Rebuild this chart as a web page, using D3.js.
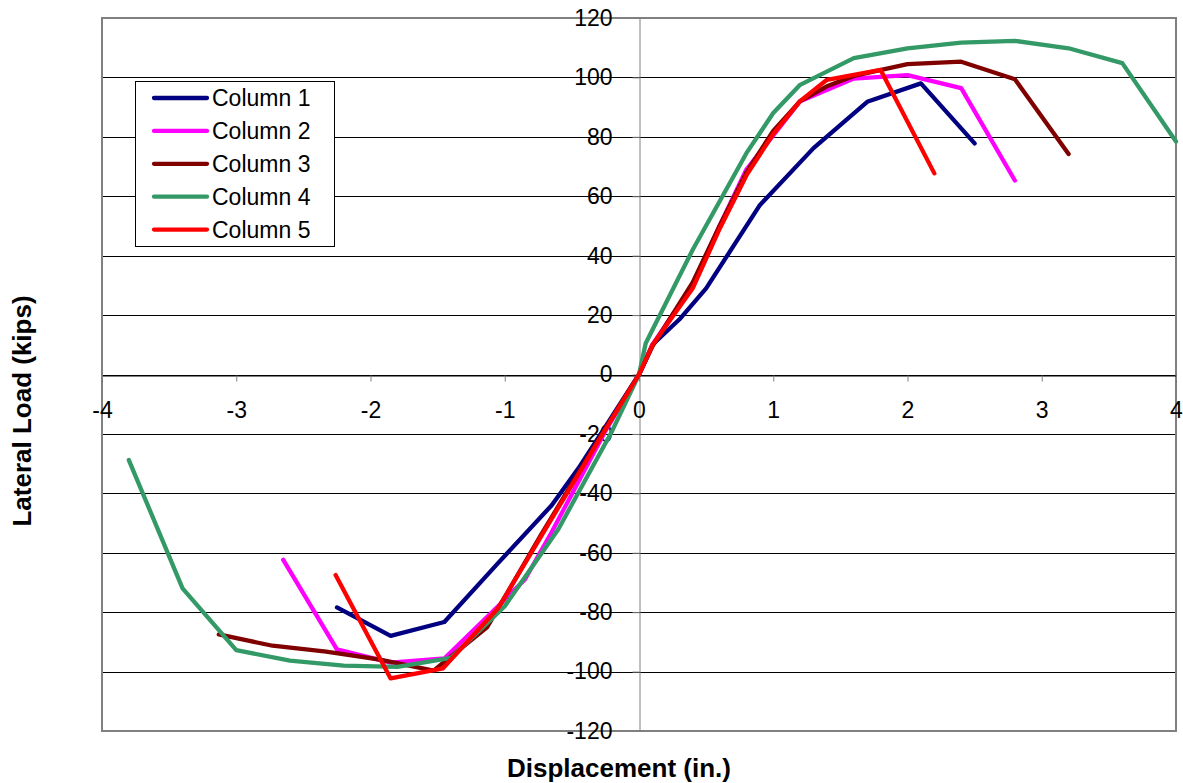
<!DOCTYPE html>
<html>
<head>
<meta charset="utf-8">
<script src="https://cdn.jsdelivr.net/npm/d3@7"></script>
<style>
  body { margin: 0; background: #fff; }
  svg { display: block; font-family: "Liberation Sans", Arial, sans-serif; }
</style>
</head>
<body>
<script>
'use strict';

// values
const seriesNames = ['Column 1', 'Column 2', 'Column 3', 'Column 4', 'Column 5'];
const seriesColors = ['#000080', '#ff00ff', '#800000', '#339966', '#ff0000'];

const col1X = [-2.25, -1.85, -1.45, -1.05, -0.65, -0.45, -0.25, 0, 0.1, 0.3, 0.5, 0.9, 1.3, 1.7, 2.1, 2.5];
const col1Y = [-78.4, -88, -83.3, -63.5, -44, -31.5, -17.6, 0, 10, 18.5, 29, 57, 76.2, 91.8, 98, 77.8];

const col2X = [-2.65, -2.25, -1.85, -1.45, -1.05, -0.85, -0.65, -0.45, -0.25, 0, 0.1, 0.4, 0.6, 0.8, 1.2, 1.6, 2.0, 2.4, 2.8];
const col2Y = [-62.4, -92.5, -97, -95.6, -78, -69, -53, -36, -19, 0, 10, 30, 50, 69, 92, 99.6, 100.8, 96.4, 65.3];

const col3X = [-3.13, -2.73, -2.33, -1.93, -1.53, -1.13, -0.73, -0.33, 0, 0.1, 0.4, 0.6, 0.8, 1.0, 1.2, 1.4, 1.6, 2.0, 2.4, 2.8, 3.2];
const col3Y = [-87.5, -91.3, -93.3, -96, -99.7, -85, -54, -24, 0, 9.5, 31, 50, 68, 82, 92, 97, 100.5, 104.5, 105.3, 99.4, 74.2];

const col4X = [-3.8, -3.4, -3.0, -2.6, -2.2, -1.8, -1.4, -1.0, -0.6, -0.2, 0, 0.05, 0.4, 0.8, 1.0, 1.2, 1.6, 2.0, 2.4, 2.8, 3.2, 3.6, 4.0];
const col4Y = [-28.8, -72, -92.8, -96.3, -98, -98.4, -95.4, -78, -52, -19, 0, 10.5, 42, 74.5, 88, 97.5, 106.5, 109.8, 111.7, 112.3, 109.8, 104.8, 78.4];

const col5X = [-2.26, -1.85, -1.46, -1.05, -0.65, -0.25, 0, 0.1, 0.4, 0.6, 0.8, 1.0, 1.2, 1.4, 1.8, 2.2];
const col5Y = [-67.5, -102.3, -98.9, -78.7, -48.5, -18.5, 0, 9.9, 29, 49, 67, 81, 92, 99.2, 102.5, 67.7];

const xTicks = [-4, -3, -2, -1, 0, 1, 2, 3, 4];
const yTicks = [-120, -100, -80, -60, -40, -20, 0, 20, 40, 60, 80, 100, 120];

const xs = [col1X, col2X, col3X, col4X, col5X];
const ys = [col1Y, col2Y, col3Y, col4Y, col5Y];

const W = 1183, H = 783;
const plot = { left: 102, top: 18, right: 1176, bottom: 731 };

const svg = d3.select('body').append('svg')
  .attr('width', W)
  .attr('height', H);

const x = d3.scaleLinear().domain([-4, 4]).range([plot.left, plot.right]);
const y = d3.scaleLinear().domain([-120, 120]).range([plot.bottom, plot.top]);

// plain hyphen for negatives, like the original
const fmt = (d) => String(d);

// horizontal gridlines
svg.append('g')
  .selectAll('line')
  .data(yTicks.filter((d) => d !== 120 && d !== -120))
  .enter().append('line')
  .attr('x1', plot.left).attr('x2', plot.right)
  .attr('y1', (d) => Math.round(y(d)) + 0.5)
  .attr('y2', (d) => Math.round(y(d)) + 0.5)
  .attr('stroke', '#000')
  .attr('stroke-width', 1);

// plot border
svg.append('rect')
  .attr('x', plot.left).attr('y', plot.top)
  .attr('width', plot.right - plot.left)
  .attr('height', plot.bottom - plot.top)
  .attr('fill', 'none')
  .attr('stroke', '#808080')
  .attr('stroke-width', 2);

// y axis through x = 0
const yAxis = d3.axisLeft(y).tickValues(yTicks).tickSize(7).tickPadding(20).tickFormat(fmt);
const gy = svg.append('g')
  .attr('transform', `translate(${Math.round(x(0)) + 0.5},0)`)
  .call(yAxis);
gy.select('.domain').attr('stroke', '#808080');
gy.selectAll('.tick line').attr('stroke', '#808080');
gy.selectAll('.tick text')
  .attr('font-size', 23)
  .attr('font-family', '"Liberation Sans", Arial, sans-serif')
  .attr('fill', '#000');

// x axis through y = 0
const xAxis = d3.axisBottom(x).tickValues(xTicks).tickSize(6).tickPadding(20).tickFormat(fmt);
const gx = svg.append('g')
  .attr('transform', `translate(0,${Math.round(y(0)) + 0.5})`)
  .call(xAxis);
gx.select('.domain').attr('stroke', '#000');
gx.selectAll('.tick line').attr('stroke', '#808080');
gx.selectAll('.tick text')
  .attr('font-size', 23)
  .attr('font-family', '"Liberation Sans", Arial, sans-serif')
  .attr('fill', '#000');

// series lines
const line = d3.line()
  .x((d) => x(d[0]))
  .y((d) => y(d[1]));

seriesNames.forEach((name, i) => {
  const pts = xs[i].map((v, j) => [v, ys[i][j]]);
  svg.append('path')
    .datum(pts)
    .attr('d', line)
    .attr('fill', 'none')
    .attr('stroke', seriesColors[i])
    .attr('stroke-width', 4.3)
    .attr('stroke-linejoin', 'round')
    .attr('stroke-linecap', 'round');
});

// legend
const legend = svg.append('g').attr('transform', 'translate(135,81)');
legend.append('rect')
  .attr('x', 0.5).attr('y', 0.5)
  .attr('width', 199).attr('height', 165)
  .attr('fill', '#fff')
  .attr('stroke', '#000')
  .attr('stroke-width', 1);
seriesNames.forEach((name, i) => {
  const cy = 17 + i * 32.9;
  legend.append('line')
    .attr('x1', 19).attr('x2', 72)
    .attr('y1', cy).attr('y2', cy)
    .attr('stroke', seriesColors[i])
    .attr('stroke-width', 4.3)
    .attr('stroke-linecap', 'round');
  legend.append('text')
    .attr('x', 77).attr('y', cy)
    .attr('dy', '0.36em')
    .attr('font-size', 23)
    .text(name);
});

// axis titles
svg.append('text')
  .attr('x', 619).attr('y', 777)
  .attr('text-anchor', 'middle')
  .attr('font-size', 26)
  .attr('font-weight', 'bold')
  .text('Displacement (in.)');

svg.append('text')
  .attr('transform', 'translate(31,411) rotate(-90)')
  .attr('text-anchor', 'middle')
  .attr('font-size', 26)
  .attr('font-weight', 'bold')
  .text('Lateral Load (kips)');
</script>
</body>
</html>
